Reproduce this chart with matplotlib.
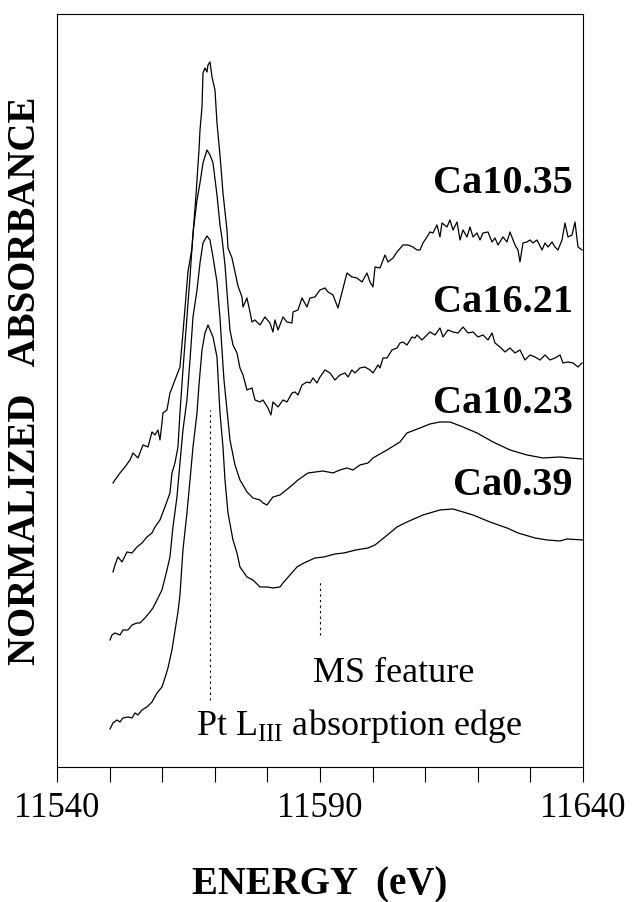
import numpy as np
import matplotlib
matplotlib.use("Agg")
import matplotlib.pyplot as plt

plt.rcParams['font.family'] = ['Liberation Serif', 'DejaVu Serif']
plt.rcParams['mathtext.fontset'] = 'custom'
plt.rcParams['mathtext.rm'] = 'Liberation Serif'

E0 = 11540  # energies below are offsets from this value (eV)

# Ca10.35
e_1035 = [10.65, 11.03, 11.98, 12.93, 13.88, 14.45, 15.4, 16.35, 17.3, 18.06, 18.63, 19.2, 19.58, 19.96,
          20.15, 20.91, 21.48, 21.86, 22.43, 23.38, 23.95, 24.9, 25.67, 26.43, 27.0, 27.19, 27.57, 27.76,
          28.14, 28.52, 28.71, 29.09, 29.47, 30.04, 30.42, 30.99, 31.56, 32.32, 32.51, 33.27, 33.84, 34.41,
          35.17, 35.36, 36.12, 36.69, 37.07, 37.64, 38.59, 39.54, 40.49, 41.06, 41.44, 42.02, 42.97, 43.73,
          44.68, 44.87, 45.82, 46.58, 47.53, 48.1, 49.05, 50.0, 50.95, 51.52, 52.47, 53.42, 55.13, 56.08,
          57.03, 57.98, 58.94, 59.51, 60.08, 60.46, 61.41, 62.36, 62.93, 63.88, 64.64, 65.78, 66.73, 67.68,
          68.44, 69.01, 69.58, 70.34, 70.91, 71.48, 72.24, 72.81, 73.19, 74.14, 74.71, 75.29, 76.05, 76.62,
          77.19, 77.95, 78.52, 79.09, 79.85, 80.42, 80.99, 81.94, 82.7, 83.27, 83.84, 84.79, 85.55, 86.12,
          87.07, 87.64, 88.02, 88.59, 89.35, 89.92, 90.49, 91.25, 92.21, 92.78, 93.35, 94.11, 94.68, 95.25,
          96.01, 96.58, 97.15, 97.91, 98.48, 99.05, 99.81]
a_1035 = [2.84, 2.87, 2.94, 3.00, 3.07, 3.14, 3.09, 3.22, 3.20, 3.35, 3.32, 3.37, 3.27, 3.44,
          3.54, 3.57, 3.74, 3.79, 3.87, 4.00, 4.34, 4.95, 5.19, 5.72, 6.17, 6.37, 6.60, 6.94,
          6.99, 6.95, 7.02, 7.05, 6.90, 6.77, 6.44, 6.12, 5.74, 5.37, 5.19, 5.09, 4.95, 4.81,
          4.70, 4.60, 4.69, 4.55, 4.45, 4.47, 4.42, 4.50, 4.44, 4.35, 4.47, 4.37, 4.50, 4.45,
          4.44, 4.55, 4.57, 4.69, 4.60, 4.69, 4.70, 4.77, 4.79, 4.75, 4.72, 4.59, 4.94, 4.90,
          4.89, 4.85, 4.94, 4.85, 4.80, 5.00, 4.99, 5.12, 5.05, 5.09, 5.15, 5.22, 5.22, 5.20,
          5.17, 5.17, 5.24, 5.30, 5.35, 5.34, 5.42, 5.30, 5.44, 5.40, 5.47, 5.37, 5.45, 5.27,
          5.37, 5.30, 5.40, 5.30, 5.34, 5.27, 5.34, 5.35, 5.25, 5.29, 5.22, 5.30, 5.25, 5.35,
          5.22, 5.17, 5.05, 5.24, 5.25, 5.27, 5.24, 5.27, 5.17, 5.24, 5.20, 5.25, 5.20, 5.17,
          5.27, 5.44, 5.30, 5.32, 5.45, 5.20, 5.17]

# Ca16.21
e_1621 = [10.65, 11.03, 11.6, 12.36, 13.31, 14.26, 15.21, 16.16, 17.11, 18.06, 18.63, 19.58, 20.53,
          21.48, 21.86, 22.43, 23.0, 23.38, 23.95, 24.71, 25.29, 25.86, 26.62, 27.19, 27.76, 28.52,
          29.09, 29.66, 30.42, 30.99, 31.37, 31.94, 32.51, 32.89, 33.46, 34.22, 34.79, 35.36, 36.12,
          37.07, 37.64, 38.59, 39.16, 40.11, 40.68, 41.06, 42.02, 42.97, 43.73, 44.68, 45.25, 45.82,
          46.58, 47.53, 48.1, 48.67, 49.43, 50.0, 50.95, 51.9, 52.85, 53.8, 54.75, 55.32, 56.08, 56.65,
          57.6, 58.56, 59.51, 60.08, 61.03, 61.41, 61.98, 62.74, 63.69, 64.64, 65.21, 65.78, 66.54,
          67.49, 68.06, 68.44, 69.39, 70.34, 70.91, 71.86, 72.81, 73.38, 74.33, 75.29, 76.24, 77.19,
          78.14, 79.09, 80.04, 80.99, 81.94, 82.7, 83.27, 84.22, 85.17, 86.12, 87.07, 88.02, 88.97,
          89.92, 90.87, 91.83, 92.78, 93.73, 94.68, 95.63, 96.2, 97.15, 98.1, 99.05, 99.81]
a_1621 = [1.95, 2.02, 2.10, 2.05, 2.15, 2.14, 2.20, 2.24, 2.30, 2.34, 2.40, 2.47, 2.60,
          2.74, 2.94, 3.04, 3.20, 3.54, 3.97, 4.50, 4.90, 5.34, 5.67, 5.84, 6.04, 6.17,
          6.12, 6.04, 5.72, 5.42, 5.29, 5.02, 4.62, 4.37, 4.22, 4.14, 3.99, 3.92, 3.77,
          3.79, 3.67, 3.65, 3.67, 3.59, 3.52, 3.65, 3.60, 3.67, 3.65, 3.74, 3.75, 3.72,
          3.82, 3.85, 3.84, 3.89, 3.84, 3.90, 3.97, 3.94, 3.87, 3.92, 3.94, 3.90, 3.97, 3.94,
          3.99, 4.00, 3.97, 3.94, 4.02, 3.99, 4.09, 4.09, 4.17, 4.19, 4.24, 4.25, 4.22,
          4.30, 4.29, 4.32, 4.27, 4.32, 4.35, 4.32, 4.39, 4.30, 4.37, 4.35, 4.34, 4.40,
          4.34, 4.35, 4.30, 4.32, 4.27, 4.34, 4.24, 4.20, 4.15, 4.19, 4.14, 4.17, 4.07,
          4.12, 4.10, 4.07, 4.12, 4.07, 4.09, 4.12, 4.04, 4.05, 4.04, 4.00, 4.04]

# Ca10.23
e_1023 = [10.08, 10.46, 11.03, 11.98, 12.55, 13.5, 14.26, 15.21, 15.78, 16.73, 17.68, 18.25, 19.01,
          19.96, 20.91, 21.48, 22.05, 22.81, 23.38, 23.95, 24.71, 25.29, 25.86, 26.62, 27.19, 27.76,
          28.52, 29.09, 29.66, 30.42, 30.99, 31.37, 31.75, 32.32, 32.89, 33.84, 34.79, 36.12, 37.26,
          38.59, 39.16, 39.92, 41.06, 42.4, 44.3, 45.82, 47.72, 50.57, 52.47, 53.8, 55.13, 56.27, 57.6,
          59.13, 60.08, 62.74, 65.21, 66.54, 69.01, 70.91, 72.81, 74.71, 77.19, 79.85, 82.89, 86.12,
          89.35, 92.4, 95.63, 97.53, 99.81]
a_1023 = [1.27, 1.32, 1.34, 1.32, 1.37, 1.37, 1.42, 1.44, 1.44, 1.49, 1.55, 1.59, 1.67,
          1.77, 1.97, 2.10, 2.40, 2.70, 3.04, 3.37, 3.67, 4.07, 4.50, 4.77, 5.04, 5.24,
          5.31, 5.27, 5.10, 4.85, 4.49, 4.17, 3.87, 3.57, 3.27, 3.02, 2.87, 2.75, 2.69,
          2.67, 2.64, 2.62, 2.70, 2.72, 2.80, 2.87, 2.94, 2.96, 2.94, 2.97, 2.99, 2.97, 3.02,
          3.04, 3.09, 3.17, 3.25, 3.34, 3.39, 3.43, 3.45, 3.45, 3.40, 3.34, 3.25, 3.17,
          3.12, 3.09, 3.10, 3.09, 3.08]

# Ca0.39
e_039 = [10.08, 10.65, 11.41, 11.98, 12.55, 13.5, 14.26, 14.83, 15.4, 16.16, 17.11, 18.06, 19.01,
         19.96, 20.53, 21.1, 21.86, 22.43, 23.0, 23.38, 23.95, 24.71, 25.29, 25.86, 26.62, 27.0,
         27.57, 28.14, 28.71, 29.66, 30.42, 30.99, 31.56, 31.94, 32.51, 33.46, 34.22, 34.79, 36.12,
         37.26, 38.59, 39.92, 41.06, 42.4, 42.97, 44.3, 45.63, 46.96, 49.05, 50.76, 52.85, 54.56,
         56.84, 59.13, 60.46, 62.36, 64.64, 66.54, 69.58, 72.81, 75.29, 79.09, 82.32, 85.55, 87.64,
         90.87, 93.16, 95.63, 96.96, 100.0]
a_039 = [0.38, 0.44, 0.47, 0.45, 0.49, 0.50, 0.49, 0.54, 0.52, 0.57, 0.60, 0.65, 0.74,
         0.80, 0.89, 0.99, 1.17, 1.36, 1.55, 1.72, 2.17, 2.54, 2.87, 3.20, 3.54, 3.82,
         4.17, 4.34, 4.42, 4.30, 4.10, 3.54, 3.20, 2.87, 2.54, 2.27, 2.14, 2.00, 1.90,
         1.87, 1.80, 1.80, 1.79, 1.80, 1.84, 1.92, 2.00, 2.04, 2.09, 2.10, 2.13, 2.14,
         2.17, 2.19, 2.22, 2.30, 2.40, 2.45, 2.52, 2.57, 2.58, 2.52, 2.45, 2.39, 2.34,
         2.29, 2.27, 2.26, 2.28, 2.27]

names = ['Ca10.35', 'Ca16.21', 'Ca10.23', 'Ca0.39']
name_y = [5.74, 4.55, 3.54, 2.72]
series = [(e_1035, a_1035), (e_1621, a_1621), (e_1023, a_1023), (e_039, a_039)]

tick_pos = list(range(11540, 11641, 10))
tick_lab = ['11540', '', '', '', '', '11590', '', '', '', '', '11640']

fig = plt.figure(figsize=(6.33, 9.02), dpi=100)
ax = fig.add_axes([0.0900, 0.1497, 0.8310, 0.8348])

for e, a in series:
    ax.plot(E0 + np.array(e), a, color='black', lw=0.9)

for n, y in zip(names, name_y):
    ax.text(11638.1, y, n, ha='right', va='baseline', fontsize=29, fontweight='bold')

# marker lines
ax.plot([11569, 11569], [0.67, 3.57], color='black', lw=0.8, ls=(0, (2, 3)))
ax.plot([11590, 11590], [1.32, 1.87], color='black', lw=0.8, ls=(0, (2, 3)))
ax.text(11588.7, 0.85, 'MS feature', fontsize=26, va='baseline')
ax.text(11566.4, 0.32, r'Pt L$_{\mathrm{III}}$ absorption edge', fontsize=26, va='baseline')

ax.set_xlim(11540, 11640)
ax.set_ylim(0, 7.53)
ax.set_xticks(tick_pos)
ax.set_xticklabels(tick_lab, fontsize=25)
ax.set_yticks([])
ax.tick_params(axis='x', direction='out', length=11, width=0.8, pad=7)
for s in ax.spines.values():
    s.set_linewidth(0.8)

ax.text(0.5, -0.157, 'ENERGY  (eV)', transform=ax.transAxes, ha='center', va='center',
        fontsize=28, fontweight='bold')
ax.text(-0.059, 0.513, 'NORMALIZED   ABSORBANCE', transform=ax.transAxes, ha='center',
        va='center', rotation=90, fontsize=28, fontweight='bold')

fig.savefig('out.png', dpi=100)
